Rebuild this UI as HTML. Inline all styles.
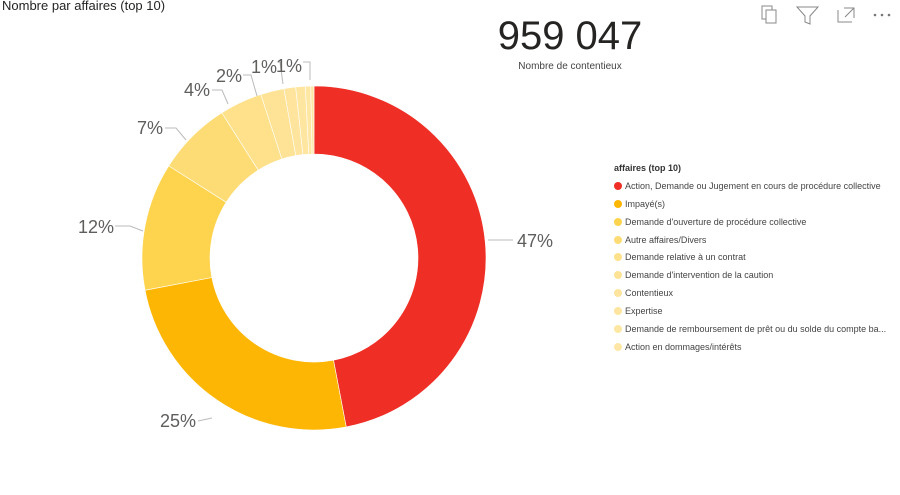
<!DOCTYPE html>
<html><head><meta charset="utf-8"><style>
body{margin:0;width:900px;height:495px;background:#fff;font-family:"Liberation Sans",sans-serif;overflow:hidden;position:relative}
.t{position:absolute;left:2px;top:-2px;font-size:13px;color:#252423}
.kpi{position:absolute;left:490px;top:14px;width:160px;text-align:center;font-size:40px;color:#252423}
.kl{position:absolute;left:490px;top:61px;width:160px;text-align:center;font-size:10px;color:#444}
.lg{position:absolute;left:614px;top:160px;font-size:9px;color:#444}
.lg div{height:17.9px;line-height:17.9px;white-space:nowrap}
.lg span{display:inline-block;width:8px;height:8px;border-radius:50%;margin-right:3px;vertical-align:-1px}
</style></head><body>
<div class="t">Nombre par affaires (top 10)</div>
<div class="kpi">959 047</div>
<div class="kl">Nombre de contentieux</div>
<svg id="s" width="900" height="495" style="position:absolute;left:0;top:0">
<g stroke="#888" fill="none" stroke-width="1">
<rect x="762" y="6" width="10" height="13"/><rect x="766" y="10" width="10" height="13" fill="#fff"/>
<path d="M797 7 H818 L810 16 V24 L805 22 V16 Z"/>
<path d="M838 10 V22 H852 M844 8 H854 V18 M845 17 L854 8"/>
</g>
<g fill="#777"><circle cx="875" cy="15" r="1.3"/><circle cx="882" cy="15" r="1.3"/><circle cx="889" cy="15" r="1.3"/></g>
<g id="d"></g>
<g stroke="#bbb" fill="none" stroke-width="1">
<polyline points="488,240 513,240"/>
<polyline points="212,418 198,421"/>
<polyline points="143,231 130,226 115,226"/>
<polyline points="186,140 176,128 165,128"/>
<polyline points="228,104 222,90 212,90"/>
<polyline points="257,96 251,75 243,75"/>
<polyline points="283,84 280,62 278,62"/>
<polyline points="310,80 310,62 303,62"/>
</g>
<g fill="#605e5c" font-size="18" font-family="Liberation Sans,sans-serif">
<text x="517" y="247">47%</text>
<text x="160" y="427">25%</text>
<text x="78" y="233">12%</text>
<text x="137" y="134">7%</text>
<text x="184" y="96">4%</text>
<text x="216" y="82">2%</text>
<text x="251" y="73">1%</text>
<text x="276" y="72">1%</text>
</g>
</svg>
<div class="lg">
<div style="font-weight:bold;color:#333">affaires (top 10)</div>
<div><span style="background:#EF2E26"></span>Action, Demande ou Jugement en cours de procédure collective</div>
<div><span style="background:#FDB604"></span>Impayé(s)</div>
<div><span style="background:#FED44F"></span>Demande d'ouverture de procédure collective</div>
<div><span style="background:#FEDC75"></span>Autre affaires/Divers</div>
<div><span style="background:#FEE18A"></span>Demande relative à un contrat</div>
<div><span style="background:#FEE396"></span>Demande d'intervention de la caution</div>
<div><span style="background:#FEE49C"></span>Contentieux</div>
<div><span style="background:#FEE5A0"></span>Expertise</div>
<div><span style="background:#FEE6A3"></span>Demande de remboursement de prêt ou du solde du compte ba...</div>
<div><span style="background:#FEE7A6"></span>Action en dommages/intérêts</div>
</div>
<script>
var v=[47,25,12,7,4,2.2,1.1,0.9,0.5,0.3];
var c=["#EF2E26","#FDB604","#FED44F","#FEDC75","#FEE18A","#FEE396","#FEE49C","#FEE5A0","#FEE6A3","#FEE7A6"];
var cx=314,cy=258,R=172,r=104,a=0,h="";
function p(rad,ang){return [cx+rad*Math.sin(ang),cy-rad*Math.cos(ang)];}
for(var i=0;i<v.length;i++){var a0=a*Math.PI/50,a1=(a+v[i])*Math.PI/50;a+=v[i];
var L=(a1-a0)>Math.PI?1:0,o0=p(R,a0),o1=p(R,a1),i1=p(r,a1),i0=p(r,a0);
h+='<path d="M'+o0+' A'+R+','+R+' 0 '+L+' 1 '+o1+' L'+i1+' A'+r+','+r+' 0 '+L+' 0 '+i0+' Z" fill="'+c[i]+'" stroke="#fff" stroke-width="0.6"/>';}
document.getElementById("d").innerHTML=h;
</script>
</body></html>
